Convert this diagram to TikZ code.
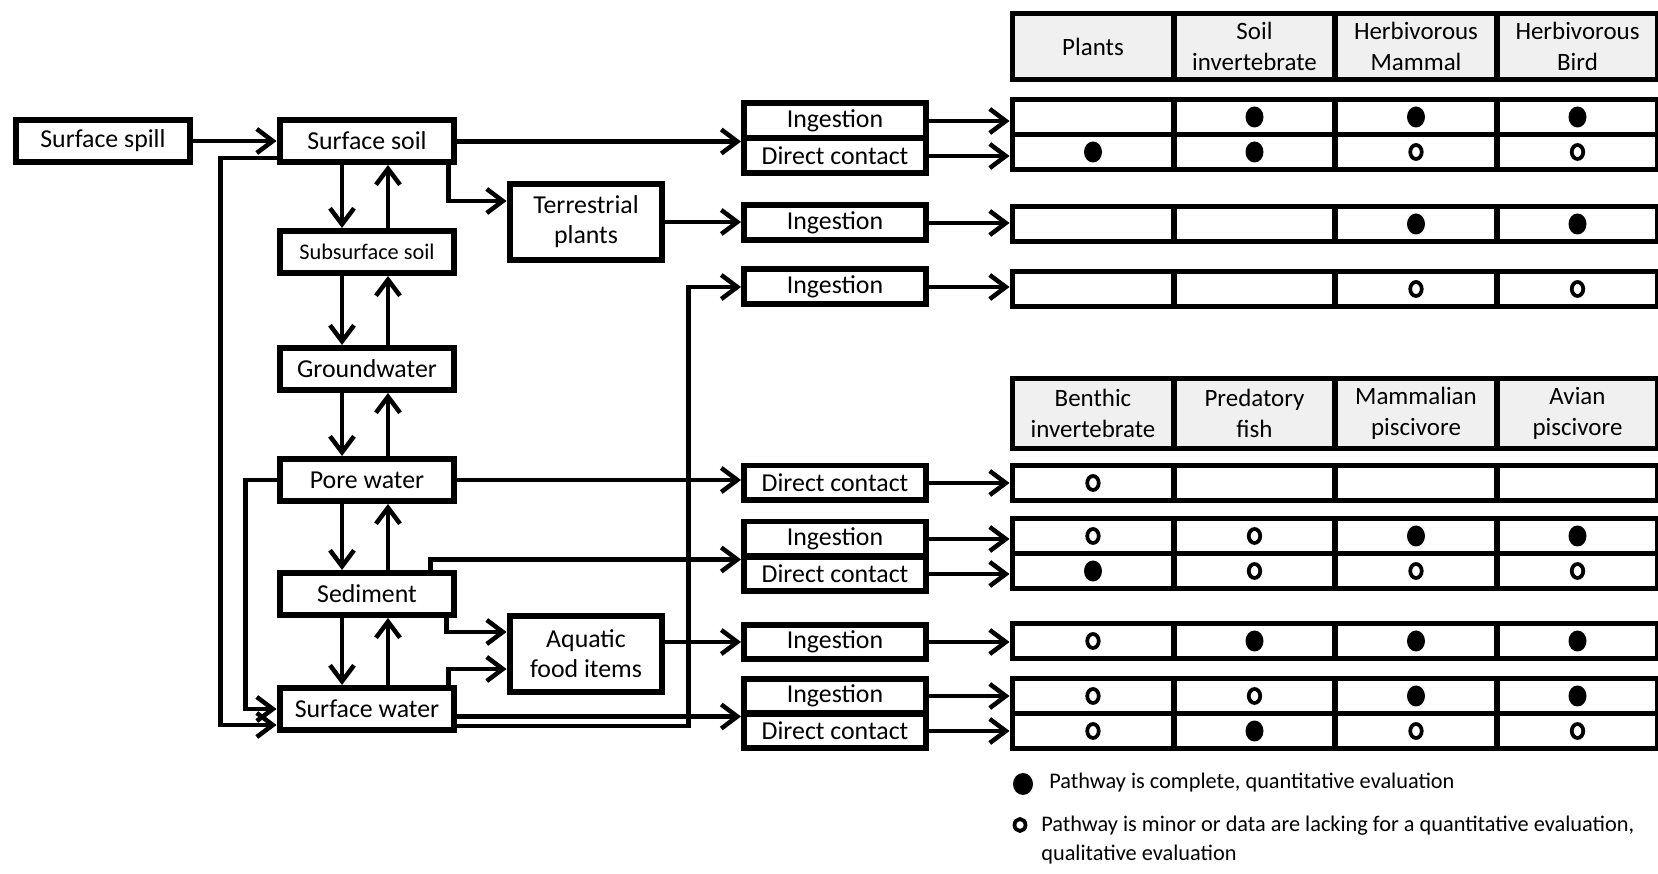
\documentclass[tikz,border=0pt]{standalone}
\usepackage{fontspec}
\setmainfont{Carlito}
\usetikzlibrary{arrows.meta}

\begin{document}
\begin{tikzpicture}[x=0.02cm,y=-0.02cm,
	comp/.style={draw,line width=0.12cm,minimum width=3.5cm,minimum height=0.84cm,inner sep=0pt,font=\fontsize{14.7}{17}\selectfont},
	food/.style={comp,minimum width=3.06cm,minimum height=1.52cm,align=center},
	route/.style={draw,line width=0.12cm,minimum width=3.64cm,minimum height=0.7cm,inner sep=0pt,font=\fontsize{14.7}{17}\selectfont},
	cell/.style={draw,line width=0.11cm,minimum width=3.23cm,minimum height=0.7cm,inner sep=0pt},
	hcell/.style={cell,fill=black!6,align=center,font=\fontsize{14.2}{17.6}\selectfont},
	flow/.style={line width=0.09cm,-{Straight Barb[length=0.32cm,width=0.48cm]}},
	legend/.style={inner sep=0pt,font=\fontsize{12.7}{17}\selectfont}]
	\useasboundingbox (0,0) rectangle (1658,874);
	\node[comp] (spill) at (103,141) {Surface spill};
	\node[comp] (ssoil) at (367,141) {Surface soil};
	\node[comp,font=\fontsize{12.7}{15}\selectfont] (subsoil) at (367,252) {Subsurface soil};
	\node[comp] (gw) at (367,369) {Groundwater};
	\node[comp] (pore) at (367,480) {Pore water};
	\node[comp] (sed) at (367,594) {Sediment};
	\node[comp] (sw) at (367,709) {Surface water};
	\node[food] (terr) at (586,222) {Terrestrial\\plants};
	\node[food] (aqua) at (586,654) {Aquatic\\food items};
	\node[route] (p1) at (835,121) {Ingestion};
	\node[route] (p2) at (835,156) {Direct contact};
	\node[route] (p3) at (835,223) {Ingestion};
	\node[route] (p4) at (835,287) {Ingestion};
	\node[route] (p5) at (835,483) {Direct contact};
	\node[route] (p6) at (835,539) {Ingestion};
	\node[route] (p7) at (835,574) {Direct contact};
	\node[route] (p8) at (835,642) {Ingestion};
	\node[route] (p9) at (835,696) {Ingestion};
	\node[route] (p10) at (835,731) {Direct contact};
	\foreach \t [count=\c] in {Plants,Soil\\invertebrate,Herbivorous\\Mammal,Herbivorous\\Bird}
		\node[hcell,minimum height=1.32cm] (ha-\c) at ({1093+161.5*(\c-1)},46.5) {\t};
	\foreach \t [count=\c] in {Benthic\\invertebrate,Predatory\\fish,Mammalian\\piscivore,Avian\\piscivore}
		\node[hcell,minimum height=1.4cm] (hb-\c) at ({1093+161.5*(\c-1)},413.5) {\t};
	\foreach \r/\y in {1/117,2/152,3/224,4/289,5/483,6/536,7/571,8/641,9/696,10/731}
		\foreach \c in {1,...,4}
			\node[cell] (r\r-\c) at ({1093+161.5*(\c-1)},\y) {};
	\foreach \n in {r1-2,r1-3,r1-4,r2-1,r2-2,r3-3,r3-4,r6-3,r6-4,r7-1,r8-2,r8-3,r8-4,r9-3,r9-4,r10-2}
		\fill (\n) ellipse [x radius=0.18cm,y radius=0.21cm];
	\foreach \n in {r2-3,r2-4,r4-3,r4-4,r5-1,r6-1,r6-2,r7-2,r7-3,r7-4,r8-1,r9-1,r9-2,r10-1,r10-3,r10-4}
		\draw[line width=0.075cm] (\n) ellipse [x radius=0.115cm,y radius=0.14cm];
	\draw[flow] (spill) -- (ssoil);
	\foreach \a/\b in {ssoil/subsoil,subsoil/gw,gw/pore,pore/sed,sed/sw} {
		\draw[flow] ([xshift=-0.5cm]\a.south) -- ([xshift=-0.5cm]\b.north);
		\draw[flow] ([xshift=0.42cm]\b.north) -- ([xshift=0.42cm]\a.south);
	}
	\draw[flow] ([yshift=-0.34cm]ssoil.west) -| ([xshift=-1.12cm,yshift=-0.32cm]sw.west) -- ([yshift=-0.32cm]sw.west);
	\draw[flow] (pore.west) -| ([xshift=-0.62cm]sw.west) -- (sw.west);
	\draw[flow] (ssoil.east |- p1.south west) -- (p1.south west);
	\draw[flow] ([xshift=-0.18cm]ssoil.south east) |- ([yshift=0.42cm]terr.west);
	\draw[flow] (terr.east) -- (terr.east -| p3.west);
	\draw[flow] ([yshift=-0.34cm]sw.east) -| ([xshift=-1.05cm]p4.west) -- (p4.west);
	\draw[flow] (pore.east) -- (pore.east -| p5.west);
	\draw[flow] ([xshift=-0.54cm]sed.north east) |- (p6.south west);
	\draw[flow] ([xshift=-0.22cm]sed.south east) |- ([yshift=0.44cm]aqua.west);
	\draw[flow] ([xshift=-0.18cm]sw.north east) |- ([yshift=-0.3cm]aqua.west);
	\draw[flow] (aqua.east |- p8.west) -- (p8.west);
	\draw[flow] (sw.east |- p9.south west) -- (p9.south west);
	\foreach \p/\r in {p1/r1,p2/r2,p3/r3,p4/r4,p5/r5,p6/r6,p7/r7,p8/r8,p9/r9,p10/r10}
		\draw[flow] (\p.east) -- (\p.east -| \r-1.west);
	\fill (1023,784) ellipse [x radius=0.2cm,y radius=0.22cm];
	\draw[line width=0.075cm] (1020,825) ellipse [x radius=0.11cm,y radius=0.12cm];
	\node[legend,anchor=west] (leg1) at (1049,783) {Pathway is complete, quantitative evaluation};
	\node[legend,anchor=west,align=left] (leg2) at (1041,840) {Pathway is minor or data are lacking for a quantitative evaluation,\\qualitative evaluation};
\end{tikzpicture}
\end{document}
